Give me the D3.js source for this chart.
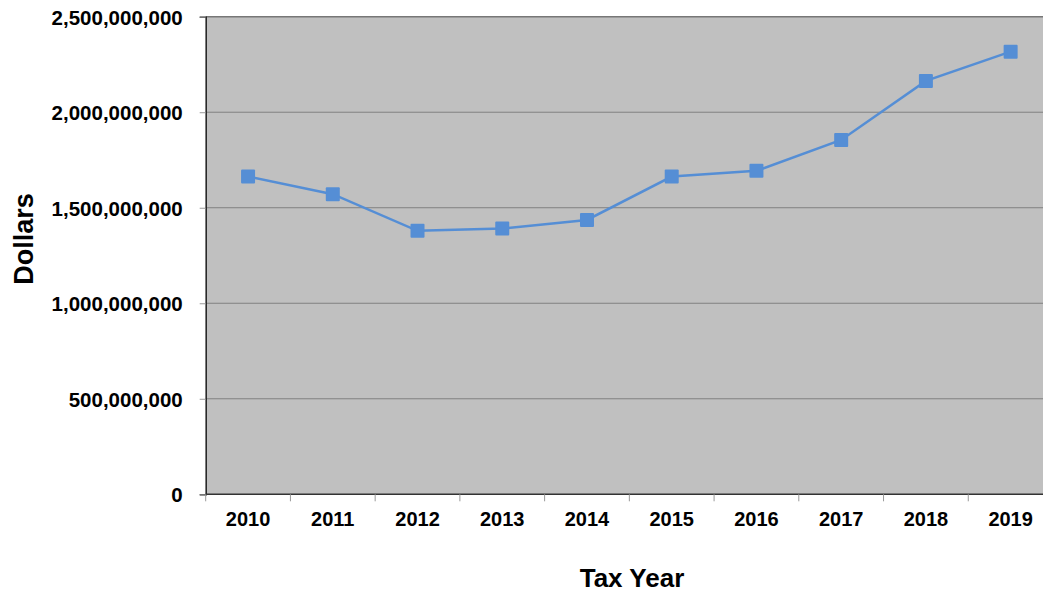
<!DOCTYPE html>
<html><head><meta charset="utf-8">
<script src="https://cdn.jsdelivr.net/npm/d3@7"></script>
<style>
html,body{margin:0;padding:0;background:#fff;overflow:hidden;}
text{font-family:"Liberation Sans",Arial,sans-serif;font-weight:bold;fill:#000;}
</style></head>
<body>
<svg id="chart" width="1043" height="595"></svg>
<script>
const years = ["2010","2011","2012","2013","2014","2015","2016","2017","2018","2019"];
const dollars = [1663000000,1571000000,1379000000,1391000000,1436000000,1663000000,1693000000,1855000000,2164000000,2317000000];
const yTicks = [0,500000000,1000000000,1500000000,2000000000,2500000000];

const svg = d3.select("#chart");
const L = 205.7, R = 1053, T = 16.7, B = 494.3;

const x = d3.scaleBand().domain(years).range([L, R]).padding(0);
const y = d3.scaleLinear().domain([0, 2500000000]).range([B, T]);

svg.append("rect").attr("x", L).attr("y", T).attr("width", R - L).attr("height", B - T).attr("fill", "#c0c0c0");

// gridlines
svg.append("g").selectAll("line").data(yTicks.filter(d => d > 0)).join("line")
  .attr("x1", L).attr("x2", R).attr("y1", d => y(d)).attr("y2", d => y(d))
  .attr("stroke", d => d === 2500000000 ? "#777" : "#808080").attr("stroke-width", d => d === 2500000000 ? 1.5 : 1);

// y axis
const yAxis = d3.axisLeft(y).tickValues(yTicks).tickSize(6).tickPadding(17)
  .tickFormat(d3.format(","));
const gy = svg.append("g").attr("transform", `translate(${L},0)`).call(yAxis);
gy.select(".domain").attr("stroke", "#222").attr("stroke-width", 1.5);
gy.selectAll(".tick line").attr("stroke", "#999");
gy.selectAll(".tick text").style("font-size", "20.5px").attr("dy", "0.36em");

// x axis (ticks at band boundaries)
const gx = svg.append("g").attr("transform", `translate(0,${B})`);
gx.append("line").attr("x1", L).attr("x2", R).attr("y1", 0).attr("y2", 0).attr("stroke", "#333").attr("stroke-width", 1.5);
const bounds = years.map(d => x(d)).concat([x(years[years.length-1]) + x.bandwidth()]);
gx.selectAll("line.tk").data(bounds).join("line").attr("class","tk")
  .attr("x1", d => d).attr("x2", d => d).attr("y1", 0).attr("y2", 7).attr("stroke", "#999");
gx.selectAll("text").data(years).join("text")
  .attr("x", d => x(d) + x.bandwidth()/2).attr("y", 32)
  .attr("text-anchor", "middle").style("font-size", "20px").text(d => d);

// line
const line = d3.line().x((d,i) => x(years[i]) + x.bandwidth()/2).y(d => y(d));
svg.append("path").datum(dollars).attr("d", line).attr("fill", "none")
  .attr("stroke", "#558ed5").attr("stroke-width", 2.5);

// markers
const ms = 14;
svg.append("g").selectAll("rect").data(dollars).join("rect")
  .attr("x", (d,i) => x(years[i]) + x.bandwidth()/2 - ms/2)
  .attr("y", d => y(d) - ms/2)
  .attr("width", ms).attr("height", ms).attr("rx", 1)
  .attr("fill", "#558ed5");

// titles
svg.append("text").attr("x", 632).attr("y", 587).attr("text-anchor", "middle")
  .style("font-size", "26px").text("Tax Year");
svg.append("text").attr("transform", "translate(33,239) rotate(-90)").attr("text-anchor", "middle")
  .style("font-size", "27px").text("Dollars");
</script>
</body></html>
